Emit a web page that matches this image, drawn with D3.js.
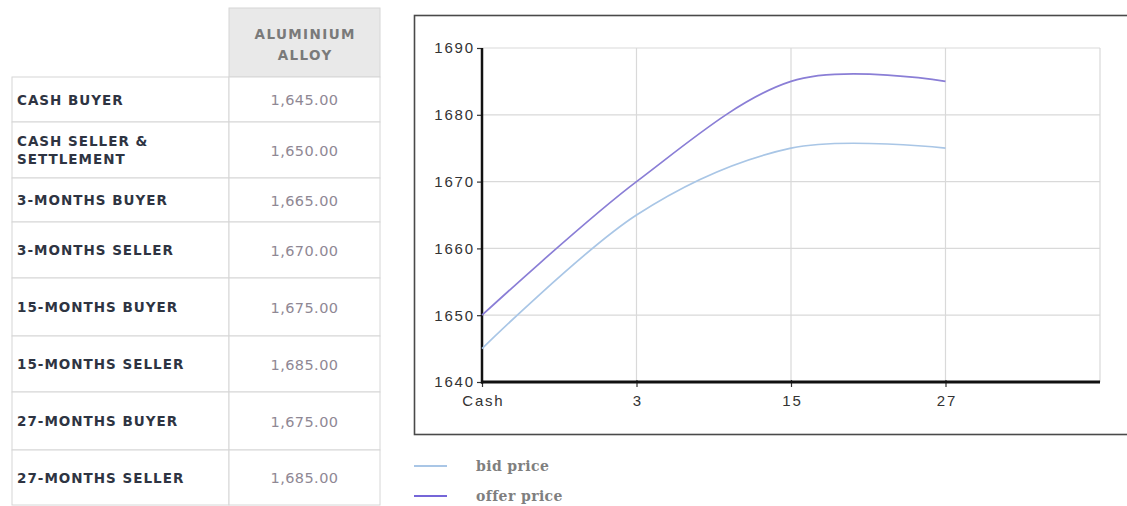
<!DOCTYPE html>
<html><head><meta charset="utf-8">
<script src="https://cdn.jsdelivr.net/npm/d3@7"></script>
<style>html,body{margin:0;padding:0;background:#fff;}svg{display:block;}</style>
</head><body>
<svg id="c" width="1127" height="506"></svg>
<script>
// ---- data ----
const tableHeader = ["ALUMINIUM", "ALLOY"];
const rowLabels = [["CASH BUYER"], ["CASH SELLER &", "SETTLEMENT"], ["3-MONTHS BUYER"], ["3-MONTHS SELLER"],
  ["15-MONTHS BUYER"], ["15-MONTHS SELLER"], ["27-MONTHS BUYER"], ["27-MONTHS SELLER"]];
const rowValues = [1645, 1650, 1665, 1670, 1675, 1685, 1675, 1685];
const categories = ["Cash", "3", "15", "27"];
const bidPrice = [1645, 1665, 1675, 1675];
const offerPrice = [1650, 1670, 1685, 1685];
const yTicks = [1640, 1650, 1660, 1670, 1680, 1690];
const seriesNames = ["bid price", "offer price"];

// ---- layout ----
const svg = d3.select("#c");
const rowEdges = [77, 122, 178, 222, 278, 336, 392, 450, 505];
const tX0 = 12, tX1 = 229, tX2 = 380;
const fmt = d3.format(",.2f");

// header cell
svg.append("rect").attr("x", tX1).attr("y", 8).attr("width", tX2 - tX1).attr("height", 69)
  .attr("fill", "#e9e9e9").attr("stroke", "#d6d6d6");
svg.selectAll("text.hdr").data(tableHeader).join("text").attr("class", "hdr")
  .attr("x", (tX1 + tX2) / 2 + 0.7).attr("y", (d, i) => 38.5 + i * 21.5)
  .attr("text-anchor", "middle").attr("font-family", "DejaVu Sans").attr("font-weight", "bold")
  .attr("font-size", 13.5).attr("letter-spacing", 1.4).attr("fill", "#7a7a7a").text(d => d);

// rows
const rows = svg.selectAll("g.row").data(rowLabels).join("g").attr("class", "row");
rows.append("rect").attr("x", tX0).attr("y", (d, i) => rowEdges[i]).attr("width", tX1 - tX0)
  .attr("height", (d, i) => rowEdges[i + 1] - rowEdges[i]).attr("fill", "#fff").attr("stroke", "#d6d6d6");
rows.append("rect").attr("x", tX1).attr("y", (d, i) => rowEdges[i]).attr("width", tX2 - tX1)
  .attr("height", (d, i) => rowEdges[i + 1] - rowEdges[i]).attr("fill", "#fff").attr("stroke", "#d6d6d6");
rows.each(function (lines, i) {
  const cy = (rowEdges[i] + rowEdges[i + 1]) / 2;
  const g = d3.select(this);
  g.selectAll("text.lbl").data(lines).join("text").attr("class", "lbl")
    .attr("x", 17).attr("y", (d, j) => cy + 5 + (j - (lines.length - 1) / 2) * 18)
    .attr("font-family", "DejaVu Sans").attr("font-weight", "bold").attr("font-size", 13.5)
    .attr("letter-spacing", 1.0).attr("fill", "#2e3442").text(d => d);
  g.append("text").attr("x", (tX1 + tX2) / 2).attr("y", cy + 5.5).attr("text-anchor", "middle")
    .attr("font-family", "DejaVu Sans").attr("font-size", 14.5).attr("letter-spacing", 0.4)
    .attr("fill", "#8f8894").text(fmt(rowValues[i]));
});

// chart frame
svg.append("rect").attr("x", 414.5).attr("y", 15.5).attr("width", 720).attr("height", 419)
  .attr("fill", "#fff").attr("stroke", "#4a4a4a").attr("stroke-width", 1.6);

const x = d3.scaleLinear().domain([0, 4]).range([482, 1100]);
const y = d3.scaleLinear().domain([1640, 1690]).range([382, 48]);

// grid
svg.append("g").selectAll("line").data(yTicks.slice(1)).join("line")
  .attr("x1", x(0)).attr("x2", x(4)).attr("y1", d => y(d)).attr("y2", d => y(d))
  .attr("stroke", "#d9d9d9").attr("stroke-width", 1.2);
svg.append("g").selectAll("line").data([1, 2, 3, 4]).join("line")
  .attr("x1", d => x(d)).attr("x2", d => x(d)).attr("y1", y(1690)).attr("y2", y(1640))
  .attr("stroke", "#d9d9d9").attr("stroke-width", 1.2);

// axes
const yAxis = svg.append("g").attr("transform", `translate(${x(0)},0)`)
  .call(d3.axisLeft(y).tickValues(yTicks).tickSize(5).tickPadding(4).tickFormat(d3.format("d")));
const xAxis = svg.append("g").attr("transform", `translate(0,${y(1640)})`)
  .call(d3.axisBottom(x).tickValues([0, 1, 2, 3]).tickSize(5).tickPadding(8).tickFormat(i => categories[i]));
[yAxis, xAxis].forEach(a => {
  a.select(".domain").remove();
  a.selectAll("text").attr("font-family", "Liberation Sans").attr("font-size", 15)
    .attr("letter-spacing", 1.8).attr("fill", "#333");
  a.selectAll(".tick line").attr("stroke", "#333").attr("stroke-width", 1.2);
});
yAxis.selectAll("text").attr("dx", 1.8);
xAxis.selectAll("text").attr("dx", 0.9);
xAxis.selectAll(".tick line").attr("y1", -2);
svg.append("line").attr("x1", x(0)).attr("x2", x(0)).attr("y1", y(1690)).attr("y2", y(1640) + 1.5)
  .attr("stroke", "#111").attr("stroke-width", 2.5);
svg.append("line").attr("x1", x(0) - 1).attr("x2", x(4)).attr("y1", y(1640)).attr("y2", y(1640))
  .attr("stroke", "#111").attr("stroke-width", 3);

// lines
const colors = ["#a9c6e6", "#8a7ed6"];
const line = d3.line().x((d, i) => x(i)).y(d => y(d)).curve(d3.curveCardinal.tension(0));
[bidPrice, offerPrice].forEach((s, k) => {
  svg.append("path").datum(s).attr("d", line).attr("fill", "none")
    .attr("stroke", colors[k]).attr("stroke-width", 1.7);
});

// legend
const leg = svg.selectAll("g.leg").data(seriesNames).join("g").attr("class", "leg")
  .attr("transform", (d, i) => `translate(414,${466 + i * 30})`);
leg.append("line").attr("x1", 0).attr("x2", 33).attr("stroke", (d, i) => i ? "#7566d8" : colors[0])
  .attr("stroke-width", 2.2);
leg.append("text").attr("x", 62).attr("y", 5).attr("font-family", "DejaVu Serif").attr("font-weight", "bold")
  .attr("font-size", 14).attr("letter-spacing", 0.4).attr("fill", "#7f7f7f").text(d => d);
</script>
</body></html>
